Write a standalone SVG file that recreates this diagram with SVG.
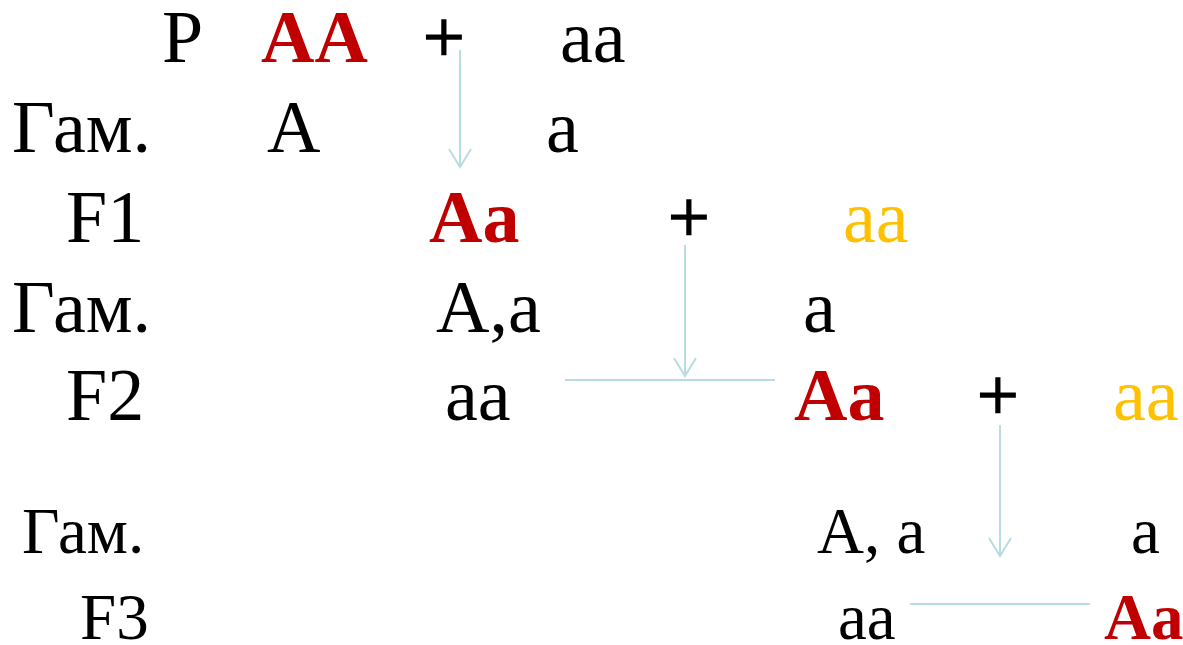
<svg xmlns="http://www.w3.org/2000/svg" width="1183" height="645" viewBox="0 0 1183 645">
<style>
text{font-family:"Liberation Serif","Times New Roman",serif;font-size:74px;fill:#000}
.b{font-weight:bold;fill:#c00000}
.o{fill:#ffc000}
.s{font-size:65px}
.p{stroke:#000;stroke-width:1.5}
.c{stroke:#b7dde2;stroke-width:2;fill:none}
</style>
<defs>
<marker id="v" markerUnits="userSpaceOnUse" markerWidth="30" markerHeight="30" refX="20" refY="11" orient="auto" viewBox="0 0 30 22">
<path d="M2,0 L20,11 L2,22" fill="none" stroke="#b7dde2" stroke-width="2"/>
</marker>
</defs>
<g id="connectors">
<line class="c" x1="460" y1="50" x2="460" y2="167" marker-end="url(#v)"/>
<line class="c" x1="685" y1="245" x2="685" y2="376" marker-end="url(#v)"/>
<line class="c" x1="565" y1="380" x2="775" y2="380"/>
<line class="c" x1="1000" y1="425" x2="1000" y2="556" marker-end="url(#v)"/>
<line class="c" x1="910" y1="604" x2="1090" y2="604"/>
</g>
<g id="row1">
<text x="162" y="62">P</text>
<text class="b" x="261" y="62">AA</text>
<text class="p" x="423" y="62">+</text>
<text x="560" y="62">aa</text>
</g>
<g id="row2">
<text x="12" y="152">Гам.</text>
<text x="267" y="152">A</text>
<text x="546" y="152">a</text>
</g>
<g id="row3">
<text x="66" y="242">F1</text>
<text class="b" x="429" y="242">Aa</text>
<text class="p" x="668" y="242">+</text>
<text class="o" x="843" y="242">aa</text>
</g>
<g id="row4">
<text x="12" y="332">Гам.</text>
<text x="436" y="332">A,a</text>
<text x="803" y="332">a</text>
</g>
<g id="row5">
<text x="66" y="420">F2</text>
<text x="445" y="420">aa</text>
<text class="b" x="794" y="420">Aa</text>
<text class="p" x="977" y="420">+</text>
<text class="o" x="1113" y="420">aa</text>
</g>
<g id="row6">
<text class="s" x="22" y="553">Гам.</text>
<text class="s" x="817" y="553">A, a</text>
<text class="s" x="1131" y="553">a</text>
</g>
<g id="row7">
<text class="s" x="80" y="639">F3</text>
<text class="s" x="838" y="639">aa</text>
<text class="s b" x="1104" y="639">Aa</text>
</g>
</svg>
